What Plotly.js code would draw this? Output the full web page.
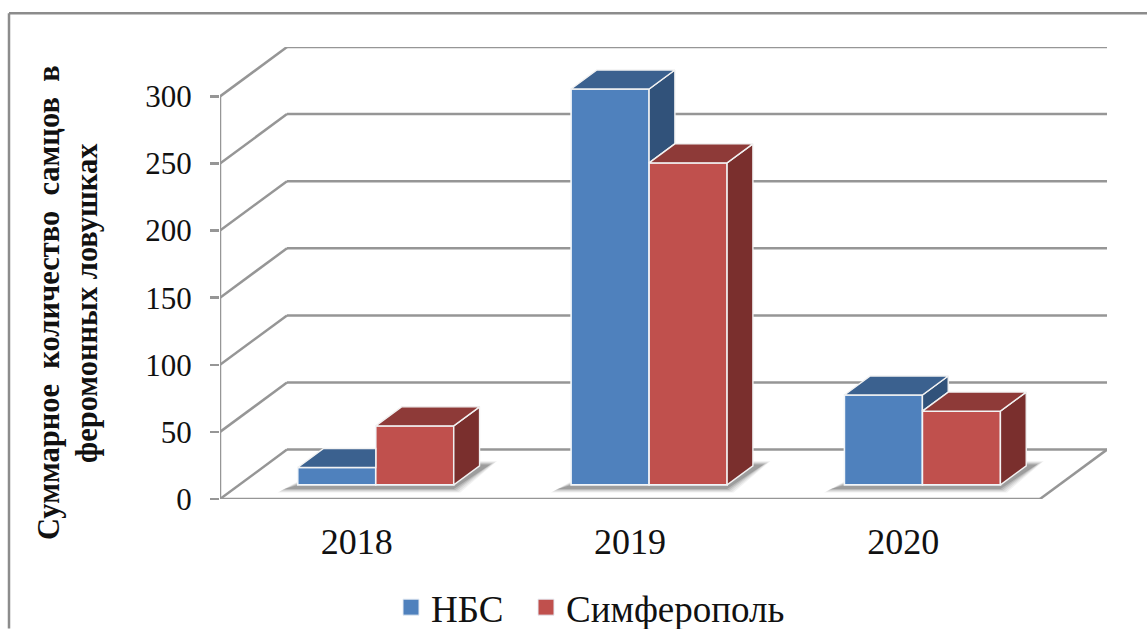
<!DOCTYPE html>
<html><head><meta charset="utf-8">
<script src="https://cdn.plot.ly/plotly-3.0.1.min.js"></script>
<style>html,body{margin:0;padding:0;background:#fff;overflow:hidden}#c{width:1147px;height:629px}</style>
</head><body><div id="c"></div>
<script>
const years = ['2018', '2019', '2020'];
const nbs = [13, 295, 67];
const simferopol = [44, 240, 55];
const seriesNames = ['НБС', 'Симферополь'];
const yTicks = [0, 50, 100, 150, 200, 250, 300];
const titleLines = ['Суммарное  количество  самцов  в', 'феромонных ловушках'];

const frontColors = ['#4F81BD', '#C0504D'];
const topColors = ['#3B618F', '#8E3A38'];
const sideColors = ['#31527A', '#7A2F2D'];
const gridColor = '#969696';
const font = '"Liberation Serif","Times New Roman",serif';

// oblique projection
const wallDX = 0.2451, wallDY = 36.8;     // full depth of the box
const barT = 0.285, barDepth = 0.385;     // bar position inside the depth
const barW = 0.2854;
const plot = {l: 220, r: 40, t: 46.7, b: 129.7, w: 887, h: 452.6};
const xMax = 3 + wallDX, yMax = 300 + wallDY;
const px = x => (x - plot.l) / plot.w;
const py = y => (plot.h + plot.t - y) / plot.h;

const shapes = [];
function seg(x0, y0, x1, y1, width) {
  shapes.push({type: 'line', layer: 'below', xref: 'x', yref: 'y', x0, y0, x1, y1,
    line: {color: gridColor, width: width || 2.5}});
}
yTicks.forEach(v => {
  seg(0, v, wallDX, v + wallDY);
  seg(wallDX, v + wallDY, xMax, v + wallDY);
});
seg(0, 0, 0, 300);
seg(0, 0, 3, 0);
seg(3, 0, xMax, wallDY);
// outer frame
shapes.push({type: 'line', layer: 'below', xref: 'paper', yref: 'paper', x0: px(9), x1: px(1147), y0: py(13), y1: py(13), line: {color: '#8C8C8C', width: 2.5}});
shapes.push({type: 'line', layer: 'below', xref: 'paper', yref: 'paper', x0: px(9), x1: px(9), y0: py(13), y1: py(629), line: {color: '#8C8C8C', width: 2.5}});

const baseX = barT * wallDX, baseY = barT * wallDY;
const dx = barDepth * wallDX, dy = barDepth * wallDY;

// soft shadow under every pair of bars
years.forEach((_, i) => {
  const x0 = i + 0.5 + baseX - barW, x1 = i + 0.5 + baseX + barW;
  [[0.024, 2.6, .07], [0.018, 2.0, .09], [0.012, 1.4, .12], [0.006, 0.8, .16], [0, 0, .24]].forEach(([gx, gy, op]) => {
    const p = [[x0 - 0.05 - gx, baseY - 3 - gy], [x1 + gx, baseY - 3 - gy],
               [x1 + dx + 0.04 + gx, baseY + dy + 1 + gy], [x1 + gx, baseY + dy + 1 + gy], [x0, baseY + gy]];
    shapes.push({type: 'path', layer: 'below', xref: 'x', yref: 'y', line: {width: 0},
      fillcolor: 'rgba(70,70,70,' + op + ')',
      path: 'M' + p.map(q => q[0] + ',' + q[1]).join('L') + 'Z'});
  });
});

const data = [];
const series = [nbs, simferopol];
// front faces
series.forEach((vals, s) => {
  data.push({
    type: 'bar', name: seriesNames[s], showlegend: false, hoverinfo: 'skip',
    x: years.map((_, i) => i + 0.5), y: vals, base: vals.map(() => baseY),
    width: barW, offset: baseX + (s - 1) * barW,
    marker: {color: frontColors[s], line: {color: '#F2F6FA', width: 1.6}}
  });
});
function poly(points, color) {
  data.push({type: 'scatter', mode: 'lines', showlegend: false, hoverinfo: 'skip', cliponaxis: false,
    x: points.map(p => p[0]), y: points.map(p => p[1]), fill: 'toself', fillcolor: color,
    line: {color: '#F2F2F2', width: 1.4}});
}
years.forEach((_, i) => {
  series.forEach((vals, s) => {
    const xl = i + 0.5 + baseX + (s - 1) * barW, xr = xl + barW;
    const top = vals[i] + baseY, bot = baseY;
    const next = s === 0 ? simferopol[i] + baseY : null;
    // side face: only the part not hidden by the neighbour bar
    if (s === 1) poly([[xr, top], [xr + dx, top + dy], [xr + dx, bot + dy], [xr, bot], [xr, top]], sideColors[s]);
    else if (next < top) poly([[xr, top], [xr + dx, top + dy], [xr + dx, next + dy], [xr, next], [xr, top]], sideColors[s]);
    // top face
    if (s === 0 && next >= top + dy) {
      poly([[xl, top], [xl + dx, top + dy], [xr, top + dy], [xr, top], [xl, top]], topColors[s]);
    } else {
      poly([[xl, top], [xl + dx, top + dy], [xr + dx, top + dy], [xr, top], [xl, top]], topColors[s]);
    }
  });
});
// legend entries
series.forEach((_, s) => {
  data.push({type: 'scatter', mode: 'markers', name: seriesNames[s], x: [null], y: [null], hoverinfo: 'skip',
    legend: s === 0 ? 'legend' : 'legend2',
    marker: {symbol: 'square', size: 16, color: frontColors[s], line: {color: '#E6ECF4', width: 1}}});
});

const legendBase = {xanchor: 'left', y: py(577), yanchor: 'top', bgcolor: 'rgba(0,0,0,0)',
  font: {family: font, size: 37, color: '#111'}, itemwidth: 30};

const titleX = [49, 87];
const layout = {
  width: 1147, height: 629, autosize: false,
  margin: {l: plot.l, r: plot.r, t: plot.t, b: plot.b, pad: 0, autoexpand: false},
  paper_bgcolor: '#fff', plot_bgcolor: 'rgba(0,0,0,0)',
  barmode: 'overlay', hovermode: false,
  font: {family: font, color: '#111'},
  xaxis: {type: 'linear', range: [0, xMax], showgrid: false, zeroline: false, showline: false, automargin: false,
    tickmode: 'array', tickvals: [0.5, 1.5, 2.5], ticktext: years, ticks: '', ticklabelstandoff: 18,
    tickfont: {family: font, size: 36, color: '#111'}},
  yaxis: {type: 'linear', range: [0, yMax], showgrid: false, zeroline: false, showline: false, automargin: false,
    tickmode: 'array', tickvals: yTicks, ticktext: yTicks.map(String), ticks: 'outside', ticklen: 9, tickwidth: 2.5, tickcolor: gridColor,
    ticklabelstandoff: 12, tickfont: {family: font, size: 31, color: '#111'}},
  legend: Object.assign({}, legendBase, {x: px(391)}),
  legend2: Object.assign({}, legendBase, {x: px(526)}),
  shapes: shapes,
  annotations: titleLines.map((line, i) => ({
    xref: 'paper', yref: 'paper', x: px(titleX[i]), y: py(303), xanchor: 'center', yanchor: 'middle', showarrow: false,
    textangle: -90, text: line,
    font: {family: font, size: 30.5, color: '#111', weight: 'bold'}
  }))
};
Plotly.newPlot('c', data, layout, {displayModeBar: false, staticPlot: true});
</script></body></html>
